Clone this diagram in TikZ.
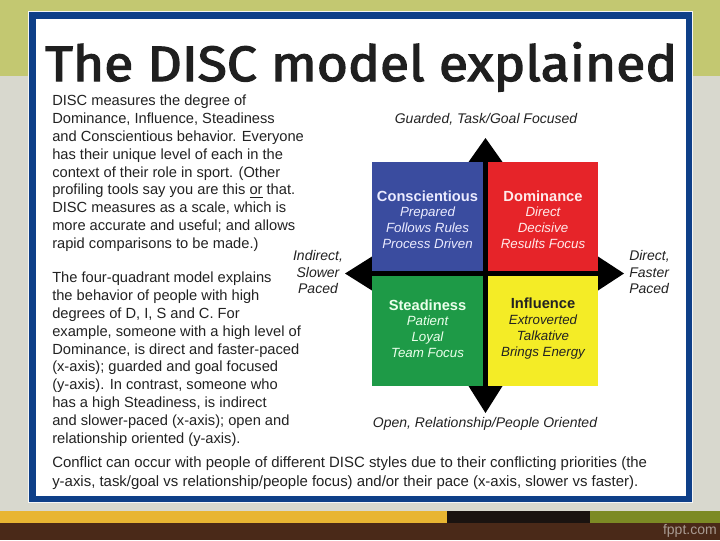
\documentclass[tikz,border=0pt]{standalone}
\usepackage{fontspec}
\usepackage{graphicx}
\setmainfont{Liberation Sans}
\newfontfamily\titlefont[FakeBold=2.4]{Fira Sans}
\definecolor{bggreen}{HTML}{C3C871}
\definecolor{bggray}{HTML}{D8D8CE}
\definecolor{framblue}{HTML}{0E3F88}
\definecolor{qblue}{HTML}{3A4C9F}
\definecolor{qred}{HTML}{E62429}
\definecolor{qgreen}{HTML}{1E9A47}
\definecolor{qyellow}{HTML}{F4EC26}
\definecolor{gold}{HTML}{E8B532}
\definecolor{brown}{HTML}{4A2918}
\definecolor{stripeblack}{HTML}{1A1310}
\definecolor{olive}{HTML}{7C8A24}
\definecolor{txt}{HTML}{222222}
\definecolor{fppt}{HTML}{A99B92}
\begin{document}
\begin{tikzpicture}[x=0.75pt,y=-0.75pt,
  body/.style={anchor=north west,inner sep=0,align=left,text=txt,font=\fontsize{11pt}{13.35pt}\selectfont},
  quad/.style={minimum width=110.5*0.75pt,minimum height=109*0.75pt,inner sep=0,outer sep=0},
  qtext/.style={align=center,inner sep=0,font=\fontsize{10pt}{11.8pt}\selectfont\itshape},
  axis/.style={text=txt,inner sep=0,font=\fontsize{10.5pt}{12.4pt}\selectfont\itshape}]
\useasboundingbox (0,0) rectangle (720,540);
% background
\fill[bggreen] (0,0) rectangle (720,76);
\fill[bggray] (0,76) rectangle (720,511);
\fill[gold] (0,511) rectangle (447,523);
\fill[stripeblack] (447,511) rectangle (590,523);
\fill[olive] (590,511) rectangle (720,523);
\fill[brown] (0,523) rectangle (720,540);
\node[anchor=east,inner sep=0,text=fppt,font=\fontsize{10.5pt}{12pt}\selectfont] (fp) at (717,531) {fppt.com};
% frame
\fill[white!92!gray] (28,11) rectangle (693,503);
\fill[framblue] (29,12) rectangle (692,502);
\fill[white] (35.5,19) rectangle (685.5,496);
% title
\node[anchor=north west,inner sep=0,text=black!88] (title) at (45,42) {\resizebox*{474pt}{37pt}{\titlefont The DISC model explained}};
% left text
\node[body] (p1) at (52,95) {DISC measures the degree of\\
Dominance, Influence, Steadiness\\
and Conscientious behavior. Everyone\\
has their unique level of each in the\\
context of their role in sport. (Other\\
profiling tools say you are this \underline{or} that.\\
DISC measures as a scale, which is\\
more accurate and useful; and allows\\
rapid comparisons to be made.)};
\node[body] (p2) at (52,272) {The four-quadrant model explains\\
the behavior of people with high\\
degrees of D, I, S and C. For\\
example, someone with a high level of\\
Dominance, is direct and faster-paced\\
(x-axis); guarded and goal focused\\
(y-axis). In contrast, someone who\\
has a high Steadiness, is indirect\\
and slower-paced (x-axis); open and\\
relationship oriented (y-axis).};
\node[body,font=\fontsize{11.2pt}{14.2pt}\selectfont] (p3) at (52,456) {Conflict can occur with people of different DISC styles due to their conflicting priorities (the\\
y-axis, task/goal vs relationship/people focus) and/or their pace (x-axis, slower vs faster).};
% cross and arrows
\fill[black] (372,162) rectangle (598,386);
\fill[black] (468.5,162) -- (485.5,138) -- (502.5,162) -- cycle;
\fill[black] (468.5,386) -- (485.5,413) -- (502.5,386) -- cycle;
\fill[black] (372,256.5) -- (345,273.5) -- (372,290.5) -- cycle;
\fill[black] (598,256.5) -- (624,273.5) -- (598,290.5) -- cycle;
% quadrants
\node[quad,fill=qblue,anchor=north west] (C) at (372,162) {};
\node[quad,fill=qred,anchor=north east] (D) at (598,162) {};
\node[quad,fill=qgreen,anchor=south west,minimum height=110*0.75pt] (S) at (372,386) {};
\node[quad,fill=qyellow,anchor=south east,minimum height=110*0.75pt] (I) at (598,386) {};
\node[qtext,text=white!92!blue] (Ct) at (427.5,219.5) {{\fontsize{11pt}{12pt}\selectfont\upshape\bfseries Conscientious}\\Prepared\\Follows Rules\\Process Driven};
\node[qtext,text=white!92!red] (Dt) at (543,219.5) {{\fontsize{11pt}{12pt}\selectfont\upshape\bfseries Dominance}\\Direct\\Decisive\\Results Focus};
\node[qtext,text=white!92!green] (St) at (427.5,328.5) {{\fontsize{11pt}{12pt}\selectfont\upshape\bfseries Steadiness}\\Patient\\Loyal\\Team Focus};
\node[qtext,text=txt] (It) at (543,328.5) {{\fontsize{11pt}{12pt}\selectfont\upshape\bfseries Influence}\\Extroverted\\Talkative\\Brings Energy};
% axis labels
\node[axis] (top) at (486,119) {Guarded, Task/Goal Focused};
\node[axis] (bot) at (485,424) {Open, Relationship/People Oriented};
\node[axis,align=center] (lft) at (318,272) {Indirect,\\Slower\\Paced};
\node[axis,align=left,anchor=west] (rgt) at (629,272) {Direct,\\Faster\\Paced};
\end{tikzpicture}
\end{document}
